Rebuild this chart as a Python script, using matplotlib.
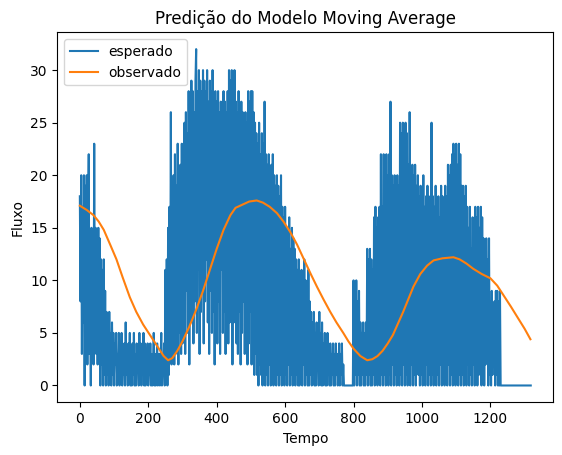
import matplotlib
matplotlib.use("Agg")
import matplotlib.pyplot as plt
import numpy as np

# Blue series "esperado": values, one every 2 time steps
step = 2
esperado = [
    18, 8, 20, 3, 17, 6, 20, 0, 19, 4,
    20, 2, 15, 22, 3, 14, 0, 15, 5, 13,
    2, 23, 4, 15, 3, 14, 2, 15, 3, 14,
    0, 12, 2, 11, 0, 12, 1, 9, 0, 7,
    1, 6, 0, 7, 2, 5, 0, 6, 1, 5,
    0, 4, 2, 5, 0, 3, 1, 5, 0, 4,
    2, 5, 0, 3, 1, 4, 0, 6, 1, 3,
    0, 4, 2, 5, 0, 3, 0, 4, 1, 5,
    0, 3, 0, 4, 2, 3, 0, 5, 1, 4,
    0, 3, 1, 5, 0, 4, 0, 3, 2, 4,
    0, 2, 1, 4, 0, 3, 0, 2, 5, 0,
    3, 0, 2, 4, 0, 1, 3, 0, 2, 5,
    0, 3, 1, 4, 0, 11, 2, 12, 0, 15,
    1, 17, 3, 26, 2, 18, 4, 20, 2, 22,
    3, 19, 4, 23, 2, 18, 5, 21, 3, 23,
    4, 22, 7, 25, 3, 26, 9, 24, 5, 28,
    2, 27, 6, 29, 10, 28, 4, 26, 8, 29,
    32, 5, 28, 11, 30, 3, 29, 7, 28, 9,
    30, 4, 29, 8, 28, 12, 30, 6, 27, 3,
    29, 9, 28, 5, 30, 7, 27, 2, 28, 10,
    27, 4, 28, 8, 26, 3, 27, 11, 26, 5,
    28, 7, 27, 3, 26, 9, 28, 4, 30, 6,
    29, 8, 30, 2, 28, 6, 30, 10, 27, 4,
    26, 3, 28, 7, 25, 2, 27, 5, 26, 8,
    24, 3, 26, 6, 25, 2, 28, 4, 27, 7,
    28, 2, 28, 5, 26, 1, 25, 3, 24, 1,
    23, 0, 25, 2, 22, 1, 24, 0, 23, 2,
    27, 0, 22, 1, 21, 0, 22, 2, 20, 0,
    21, 1, 22, 0, 20, 1, 19, 0, 20, 1,
    19, 0, 18, 1, 20, 0, 17, 1, 16, 0,
    17, 1, 15, 0, 14, 2, 16, 0, 13, 1,
    15, 0, 14, 1, 13, 0, 12, 1, 11, 0,
    12, 0, 10, 1, 11, 0, 9, 2, 12, 0,
    10, 1, 9, 0, 11, 0, 8, 1, 7, 0,
    6, 1, 7, 0, 5, 0, 6, 2, 4, 0,
    7, 1, 5, 0, 6, 0, 4, 1, 5, 0,
    4, 0, 5, 1, 3, 0, 4, 0, 3, 1,
    4, 0, 3, 0, 4, 1, 3, 0, 2, 4,
    0, 3, 1, 4, 0, 2, 0, 0, 0, 0,
    0, 0, 0, 0, 0, 0, 0, 0, 0, 0,
    10, 0, 9, 1, 10, 0, 8, 1, 9, 0,
    6, 0, 5, 1, 6, 0, 5, 0, 6, 1,
    13, 0, 12, 1, 13, 0, 12, 0, 11, 1,
    16, 0, 17, 1, 15, 0, 16, 2, 17, 0,
    22, 1, 17, 0, 22, 1, 16, 0, 22, 2,
    20, 0, 22, 1, 27, 0, 20, 2, 19, 0,
    20, 1, 18, 0, 20, 1, 19, 0, 25, 1,
    24, 0, 25, 2, 23, 0, 25, 1, 24, 0,
    21, 1, 26, 0, 20, 2, 21, 0, 20, 1,
    21, 0, 19, 2, 20, 1, 18, 0, 19, 1,
    18, 0, 20, 1, 17, 0, 18, 2, 19, 0,
    18, 1, 17, 0, 25, 1, 18, 0, 17, 2,
    19, 0, 17, 1, 18, 0, 16, 2, 19, 0,
    18, 1, 17, 0, 19, 1, 18, 0, 21, 2,
    20, 0, 21, 1, 22, 0, 23, 1, 22, 0,
    23, 2, 21, 0, 23, 1, 22, 0, 19, 1,
    19, 0, 18, 1, 19, 0, 17, 2, 15, 0,
    17, 1, 13, 0, 16, 2, 14, 0, 17, 1,
    16, 0, 17, 1, 15, 3, 17, 0, 16, 2,
    14, 0, 13, 2, 14, 3, 12, 0, 14, 1,
    8, 0, 9, 1, 7, 2, 8, 0, 9, 1,
    9, 0, 8, 0, 9, 0, 0, 0, 0, 0,
    0, 0, 0, 0, 0, 0, 0, 0, 0, 0,
    0, 0, 0, 0, 0, 0, 0, 0, 0, 0,
    0, 0, 0, 0, 0, 0, 0, 0, 0, 0,
    0, 0, 0, 0, 0, 0, 0, 0, 0, 0,
]
tempo_esperado = np.arange(len(esperado)) * step

# Orange series "observado": smooth curve
tempo_observado = [0, 20, 40, 55, 70, 90, 107, 125, 146, 165, 185, 205, 225, 245,
                   258, 270, 285, 300, 320, 340, 360, 380, 400, 420, 440, 455,
                   475, 495, 517, 535, 555, 576, 595, 615, 635, 655, 675, 693,
                   712, 732, 750, 770, 785, 800, 820, 840, 855, 870, 885, 900,
                   915, 930, 945, 960, 975, 995, 1015, 1034, 1060, 1092, 1110,
                   1130, 1150, 1175, 1200, 1220, 1238, 1260, 1279, 1300, 1317]
observado = [17.1, 16.7, 16.2, 15.6, 14.8, 13.3, 12.0, 10.3, 8.4, 7.0, 5.8, 4.8, 3.8, 2.8,
             2.4, 2.6, 3.3, 4.2, 5.6, 7.2, 9.0, 11.0, 13.0, 14.8, 16.2, 16.9,
             17.2, 17.5, 17.6, 17.4, 17.0, 16.4, 15.6, 14.6, 13.4, 12.0, 10.6, 9.4,
             8.2, 7.0, 6.0, 5.0, 4.2, 3.5, 2.8, 2.4, 2.5, 2.8, 3.3, 4.0,
             4.8, 5.9, 7.0, 8.2, 9.4, 10.6, 11.4, 11.9, 12.1, 12.2, 12.0,
             11.6, 11.1, 10.6, 10.2, 9.5, 8.6, 7.5, 6.5, 5.4, 4.4]

fig = plt.figure(figsize=(5.62, 4.55), dpi=100)
ax = fig.add_axes([57.3 / 562, (455 - 402.3) / 455, 496 / 562, 370 / 455])
ax.plot(tempo_esperado, esperado, color="#1f77b4", linewidth=1.5, label="esperado")
ax.plot(tempo_observado, observado, color="#ff7f0e", linewidth=1.5, label="observado")
ax.set_title("Predição do Modelo Moving Average")
ax.set_xlabel("Tempo")
ax.set_ylabel("Fluxo")
ax.legend(loc="upper left")
fig.savefig("out.png", dpi=100)
